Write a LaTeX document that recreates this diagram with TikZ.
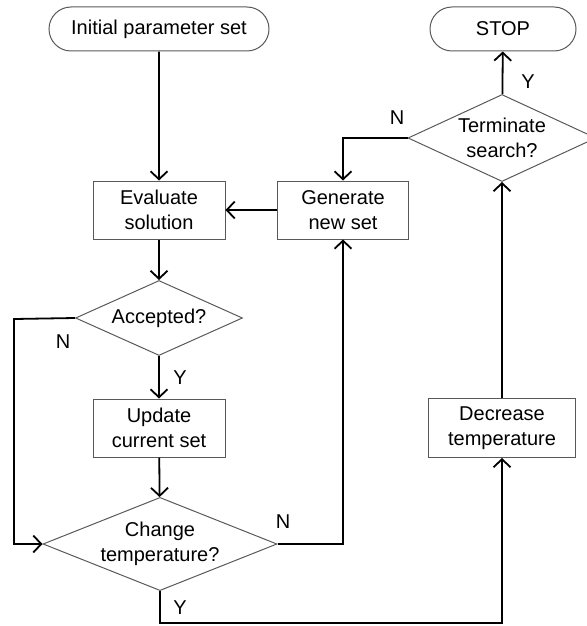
\documentclass[tikz,border=0pt]{standalone}
\usepackage{fontspec}
\setmainfont{Liberation Sans}
\usetikzlibrary{shapes.geometric,shapes.misc,arrows.meta}

\tikzset{
    chart/.style={font=\fontsize{10}{12.5}\selectfont, align=center, draw=black!65, line width=0.5pt, inner sep=0pt},
    stepbox/.style={chart, rectangle, minimum width=66pt, minimum height=29pt},
    terminal/.style={chart, rounded rectangle, minimum width=110pt, minimum height=22pt},
    decision/.style={chart, diamond, aspect=2.4},
    flow/.style={line width=0.9pt, -{Straight Barb[length=4pt,width=8.5pt]}},
    yesno/.style={font=\fontsize{10}{12}\selectfont},
}

\begin{document}
\begin{tikzpicture}[x=0.5pt, y=-0.5pt]
    \useasboundingbox (0,0) rectangle (587,626);

    % Left column
    \node[terminal] (init) at (159,29) {Initial parameter set};
    \node[stepbox] (eval) at (159,210) {Evaluate\\solution};
    \node[decision, minimum width=83.5pt, minimum height=37.5pt] (acc) at (159,318) {Accepted?};
    \node[stepbox] (upd) at (159,428) {Update\\current set};
    \node[decision, minimum width=117pt, minimum height=44pt] (chg) at (160,544) {Change\\temperature?};

    % Right side
    \node[stepbox, minimum width=65.5pt] (gen) at (343,210) {Generate\\new set};
    \node[terminal, minimum width=73pt] (stop) at (503,29) {STOP};
    \node[decision, minimum width=94pt, minimum height=43.5pt] (term) at (502,138) {Terminate\\search?};
    \node[stepbox, minimum width=73.5pt, minimum height=29.5pt] (dec) at (502,428) {Decrease\\temperature};

    \coordinate (nloop) at (14,319);
    \coordinate (ybot) at (160,623);

    % Connectors
    \draw[flow] (init) -- (eval);
    \draw[flow] (gen) -- (eval);
    \draw[flow] (eval) -- (acc);
    \draw[flow] (acc) -- (upd);
    \draw[flow] (acc.west) -- (nloop) |- (chg.west);
    \draw[flow] (upd) -- (chg);
    \draw[flow] (chg.east) -| (gen.south);
    \draw[flow] (chg.south) -- (ybot) -| (dec.south);
    \draw[flow] (dec) -- (term);
    \draw[flow] (term) -- (stop);
    \draw[flow] (term.west) -| (gen.north);

    % Branch labels
    \node[yesno] (accy) at (180,378) {Y};
    \node[yesno] (accn) at (63,342) {N};
    \node[yesno] (chgn) at (283,522) {N};
    \node[yesno] (chgy) at (180,608) {Y};
    \node[yesno] (termn) at (397,118) {N};
    \node[yesno] (termy) at (528,82) {Y};
\end{tikzpicture}
\end{document}
